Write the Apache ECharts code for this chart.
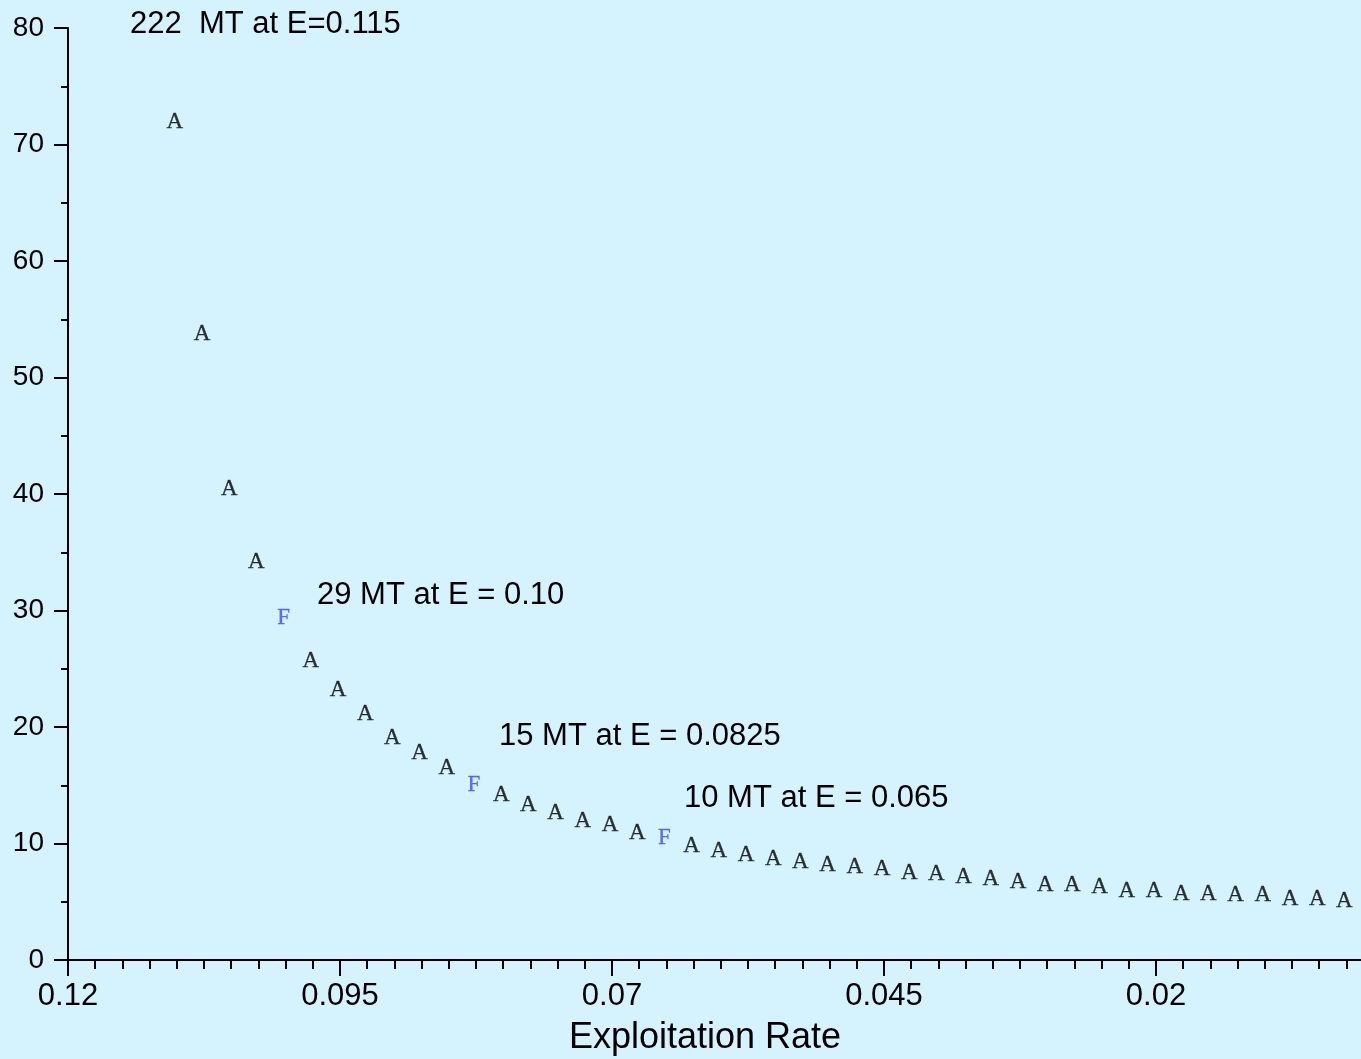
<!DOCTYPE html>
<html>
<head>
<meta charset="utf-8">
<title>Exploitation Rate</title>
<script src="https://cdn.jsdelivr.net/npm/echarts@6/dist/echarts.min.js"></script>
<style>
  html, body { margin: 0; padding: 0; background: #d4f3fe; }
  #chart { width: 1361px; height: 1059px; }
</style>
</head>
<body>
<div id="chart"></div>
<script>
// exploitation rate of each plotted point
const rates = [
  0.11, 0.1075, 0.105, 0.1025, 0.1, 0.0975, 0.095, 0.0925, 0.09, 0.0875, 0.085,
  0.0825, 0.08, 0.0775, 0.075, 0.0725, 0.07, 0.0675, 0.065, 0.0625, 0.06, 0.0575,
  0.055, 0.0525, 0.05, 0.0475, 0.045, 0.0425, 0.04, 0.0375, 0.035, 0.0325, 0.03,
  0.0275, 0.025, 0.0225, 0.02, 0.0175, 0.015, 0.0125, 0.01, 0.0075, 0.005, 0.0025,
];
// value (MT)
const values = [
  71.9, 53.7, 40.4, 34.2, 29.4, 25.7, 23.2, 21.1, 19.1, 17.8, 16.45,
  15.05, 14.2, 13.35, 12.65, 11.95, 11.6, 10.9, 10.45, 9.75, 9.35, 9.05,
  8.7, 8.45, 8.2, 7.95, 7.85, 7.5, 7.35, 7.1, 6.95, 6.7, 6.4,
  6.4, 6.25, 5.95, 5.95, 5.7, 5.7, 5.55, 5.55, 5.25, 5.25, 5.05,
];
// plot symbol of each point
const marks = [
  'A', 'A', 'A', 'A', 'F', 'A', 'A', 'A', 'A', 'A', 'A',
  'F', 'A', 'A', 'A', 'A', 'A', 'A', 'F', 'A', 'A', 'A',
  'A', 'A', 'A', 'A', 'A', 'A', 'A', 'A', 'A', 'A', 'A',
  'A', 'A', 'A', 'A', 'A', 'A', 'A', 'A', 'A', 'A', 'A',
];
const notes = ['222  MT at E=0.115', '29 MT at E = 0.10', '15 MT at E = 0.0825', '10 MT at E = 0.065'];

// axis runs from E=0.12 down to the right
const E0 = 0.12;
const sans = 'Liberation Sans, Arial, sans-serif';

const chart = echarts.init(document.getElementById('chart'));

let points = rates.map((r, i) => {
  let c = marks[i] === 'F' ? '#4646ff' : '#000';
  return {
    value: [E0 - r, values[i]],
    label: { formatter: marks[i], color: c, textBorderColor: c },
  };
});

let notePos = [
  [130, 26],
  [317, 597],
  [499, 738],
  [684, 800],
];

let option = {
  backgroundColor: '#d4f3fe',
  animation: false,
  grid: { left: 68, right: -67, top: 28, bottom: 99, outerBoundsMode: 'none', containLabel: false },
  xAxis: {
    type: 'value',
    min: 0,
    max: 0.125,
    interval: 0.025,
    name: 'Exploitation Rate',
    nameLocation: 'middle',
    nameGap: 60,
    nameTextStyle: { fontFamily: sans, fontSize: 36, color: '#000', padding: [0, 86, 0, 0] },
    axisLine: { lineStyle: { color: '#000', width: 2 } },
    axisTick: { length: 16, lineStyle: { color: '#000', width: 2 } },
    minorTick: { show: true, splitNumber: 10, length: 9, lineStyle: { color: '#000', width: 2 } },
    splitLine: { show: false },
    axisLabel: {
      fontFamily: sans,
      fontSize: 31,
      color: '#000',
      margin: 21,
      showMaxLabel: false,
      formatter: v => String(parseFloat((E0 - v).toFixed(4))),
    },
  },
  yAxis: {
    type: 'value',
    min: 0,
    max: 80,
    interval: 10,
    axisLine: { show: true, lineStyle: { color: '#000', width: 2 } },
    axisTick: { show: true, length: 14, lineStyle: { color: '#000', width: 2 } },
    minorTick: { show: true, splitNumber: 2, length: 7, lineStyle: { color: '#000', width: 2 } },
    splitLine: { show: false },
    axisLabel: { fontFamily: sans, fontSize: 28, color: '#000', margin: 24 },
  },
  series: [
    {
      type: 'scatter',
      symbol: 'rect',
      symbolSize: 2,
      itemStyle: { color: 'rgba(0,0,0,0)' },
      label: {
        show: true,
        position: 'inside',
        offset: [-2, 0],
        fontFamily: 'Liberation Serif, Times New Roman, serif',
        fontSize: 23,
        textBorderWidth: 0.3,
      },
      emphasis: { disabled: true },
      data: points,
    },
  ],
  graphic: notes.map((t, i) => ({
    type: 'text',
    left: notePos[i][0],
    top: notePos[i][1] - 17,
    style: { text: t, fontFamily: sans, fontSize: 31, fill: '#000' },
  })),
};

chart.setOption(option);
</script>
</body>
</html>
